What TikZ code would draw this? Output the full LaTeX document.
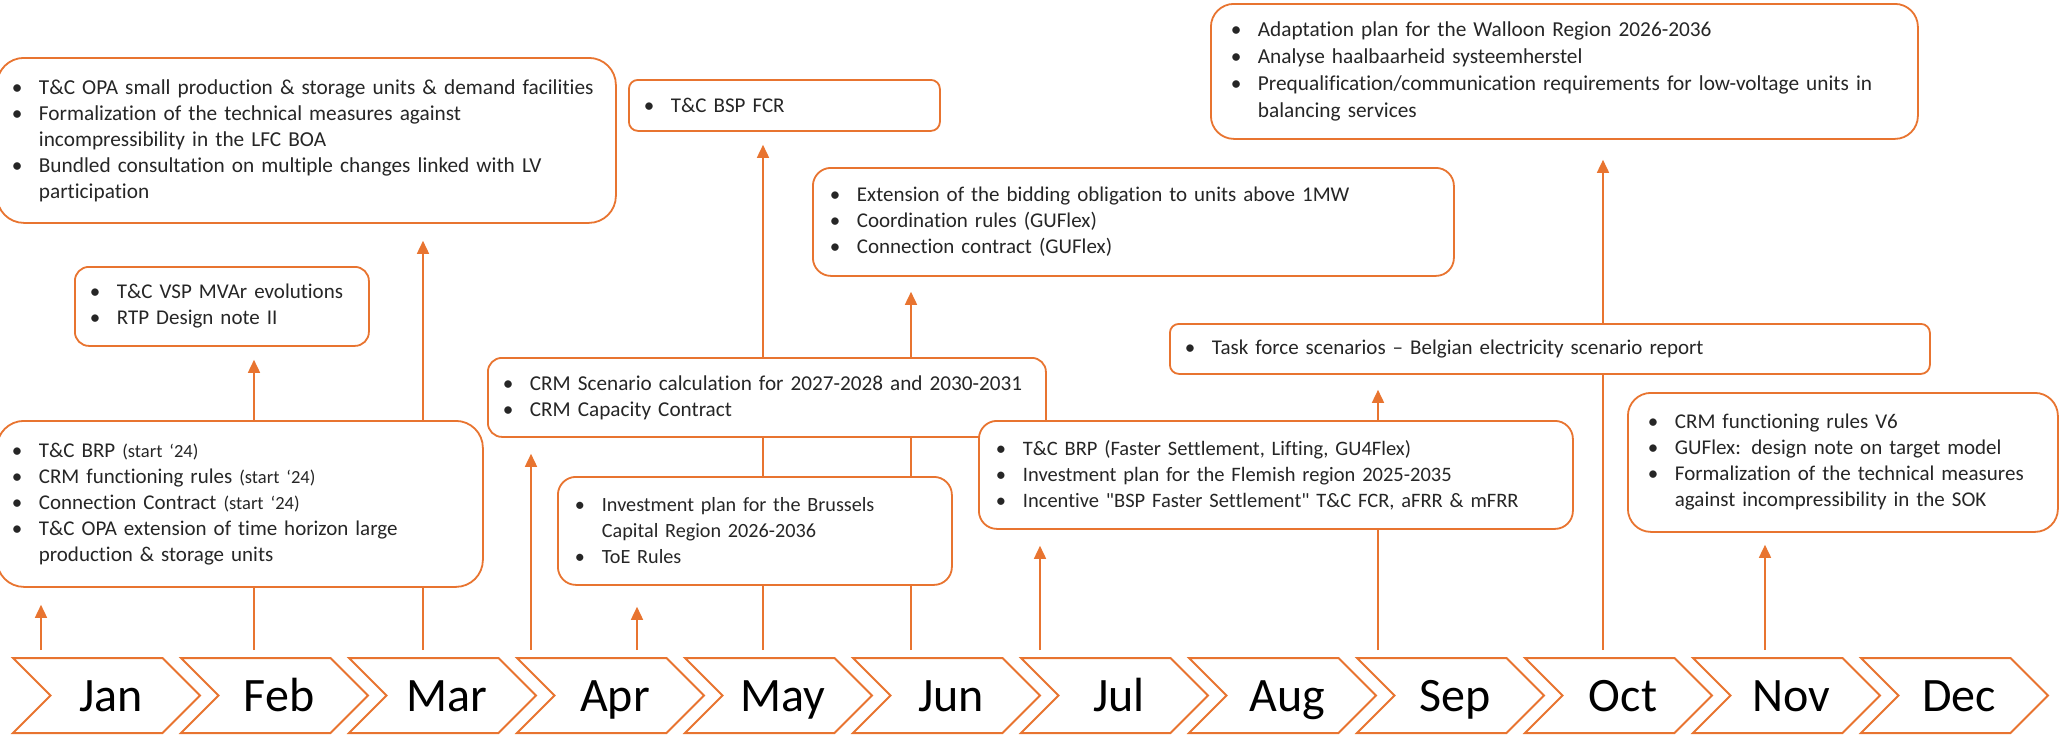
\documentclass[tikz,border=0pt]{standalone}
\usepackage{fontspec}
\setmainfont{Carlito}[Ligatures={TeX,NoCommon}]
\usetikzlibrary{arrows.meta}
\usetikzlibrary{shapes.symbols}
\usetikzlibrary{backgrounds}

\definecolor{orng}{RGB}{232,116,48}
\definecolor{txt}{RGB}{38,38,38}

\newcommand\bul[1]{\noindent\hangindent=27pt\hangafter=1\makebox[27pt][l]{\textbullet}#1\par}
\newcommand\startyr{{\fontsize{18.5}{26}\selectfont(start ‘24)}}

\begin{document}
\begin{tikzpicture}[x=1pt, y=-1pt,
  box/.style={draw=orng, line width=1.8pt, fill=white, anchor=north west, inner xsep=15pt, inner ysep=0pt, align=left, text=txt, font=\fontsize{21}{26}\selectfont},
  mon/.style={signal, signal from=west, signal to=east, signal pointer angle=90, draw=orng, line width=2pt, minimum width=187pt, minimum height=75pt, inner sep=0pt, text height=31pt, text depth=0pt, font=\fontsize{48}{48}\selectfont},
  link/.style={draw=orng, line width=1.6pt, shorten <=7pt},
  arr/.style={link, -{Triangle[length=13pt,width=12pt]}}]
\useasboundingbox (0,0) rectangle (2059,736);

% months
\foreach \m [count=\i from 0] in {Jan,Feb,Mar,Apr,May,Jun,Jul,Aug,Sep,Oct,Nov,Dec}
  \node[mon] (\m) at (106.5+168*\i, 695.5) {\hspace*{9pt}\m};

% boxes
\node[box, rounded corners=27pt, text width=589pt, minimum height=165pt, font=\fontsize{21.3}{26}\selectfont] (opa) at (-4,57) {%
  \bul{T\&C OPA small production \& storage units \& demand facilities}
  \bul{Formalization of the technical measures against\newline incompressibility in the LFC BOA}
  \bul{Bundled consultation on multiple changes linked with LV\newline participation}};
\node[box, rounded corners=14pt, text width=264pt, minimum height=79pt] (vsp) at (74,266) {%
  \bul{T\&C VSP MVAr evolutions}
  \bul{RTP Design note II}};
\node[box, rounded corners=27pt, text width=456pt, minimum height=166pt] (brp) at (-4,420) {%
  \bul{T\&C BRP \startyr}
  \bul{CRM functioning rules \startyr}
  \bul{Connection Contract \startyr}
  \bul{T\&C OPA extension of time horizon large\newline production \& storage units}};
\node[box, rounded corners=9pt, text width=281pt, minimum height=51pt] (fcr) at (628,79) {%
  \bul{T\&C BSP FCR}};
\node[box, rounded corners=18pt, inner xsep=17pt, text width=607pt, minimum height=108pt] (bid) at (812,167) {%
  \bul{Extension of the bidding obligation to units above 1MW}
  \bul{Coordination rules (GUFlex)}
  \bul{Connection contract (GUFlex)}};
\node[box, rounded corners=14pt, text width=528pt, minimum height=79pt, font=\fontsize{21.2}{26}\selectfont] (crm) at (487,357) {%
  \bul{CRM Scenario calculation for 2027-2028 and 2030-2031}
  \bul{CRM Capacity Contract}};
\node[box, rounded corners=18pt, inner xsep=17pt, text width=360pt, minimum height=108pt, font=\fontsize{20.2}{26}\selectfont] (bru) at (557,476) {%
  \bul{Investment plan for the Brussels\newline Capital Region 2026-2036}
  \bul{ToE Rules}};
\node[box, rounded corners=23pt, inner xsep=20pt, text width=667pt, minimum height=135pt, font=\fontsize{21.3}{27}\selectfont] (wal) at (1210,3) {%
  \bul{Adaptation plan for the Walloon Region 2026-2036}
  \bul{Analyse haalbaarheid systeemherstel}
  \bul{Prequalification/communication requirements for low-voltage units in\newline balancing services}};
\node[box, rounded corners=9pt, text width=730pt, minimum height=50pt] (task) at (1169,323) {%
  \bul{Task force scenarios – Belgian electricity scenario report}};
\node[box, rounded corners=18pt, inner xsep=17pt, text width=560pt, minimum height=108pt, font=\fontsize{20.5}{26}\selectfont] (fast) at (978,420) {%
  \bul{T\&C BRP (Faster Settlement, Lifting, GU4Flex)}
  \bul{Investment plan for the Flemish region 2025-2035}
  \bul{Incentive \textquotedbl BSP Faster Settlement\textquotedbl{} T\&C FCR, aFRR \& mFRR}};
\node[box, rounded corners=23pt, inner xsep=20pt, text width=390pt, minimum height=139pt] (sok) at (1627,392) {%
  \bul{CRM functioning rules V6}
  \bul{GUFlex: design note on target model}
  \bul{Formalization of the technical measures\newline against incompressibility in the SOK}};

% links, under the boxes
\begin{scope}[on background layer]
\draw[arr, shorten >=17pt] (Jan.north -| 41,0) -- (brp.south -| 41,0);
\draw[arr, shorten >=13pt] (Feb.north -| 254,0) -- (vsp.south -| 254,0);
\draw[arr, shorten >=17pt] (Mar.north -| 423,0) -- (opa.south -| 423,0);
\draw[arr, shorten >=16pt] (Apr.north -| 531,0) -- (crm.south -| 531,0);
\draw[arr, shorten >=21pt] (Apr.north -| 637,0) -- (bru.south -| 637,0);
\draw[arr, shorten >=13pt] (May.north -| 763,0) -- (fcr.south -| 763,0);
\draw[arr, shorten >=15pt] (Jun.north -| 911,0) -- (bid.south -| 911,0);
\draw[arr, shorten >=16pt] (Jul.north -| 1040,0) -- (fast.south -| 1040,0);
\draw[arr, shorten >=15pt] (Sep.north -| 1378,0) -- (task.south -| 1378,0);
\draw[arr, shorten >=20pt] (Oct.north -| 1603,0) -- (wal.south -| 1603,0);
\draw[arr, shorten >=12pt] (Nov.north -| 1765,0) -- (sok.south -| 1765,0);
\end{scope}
\end{tikzpicture}
\end{document}
